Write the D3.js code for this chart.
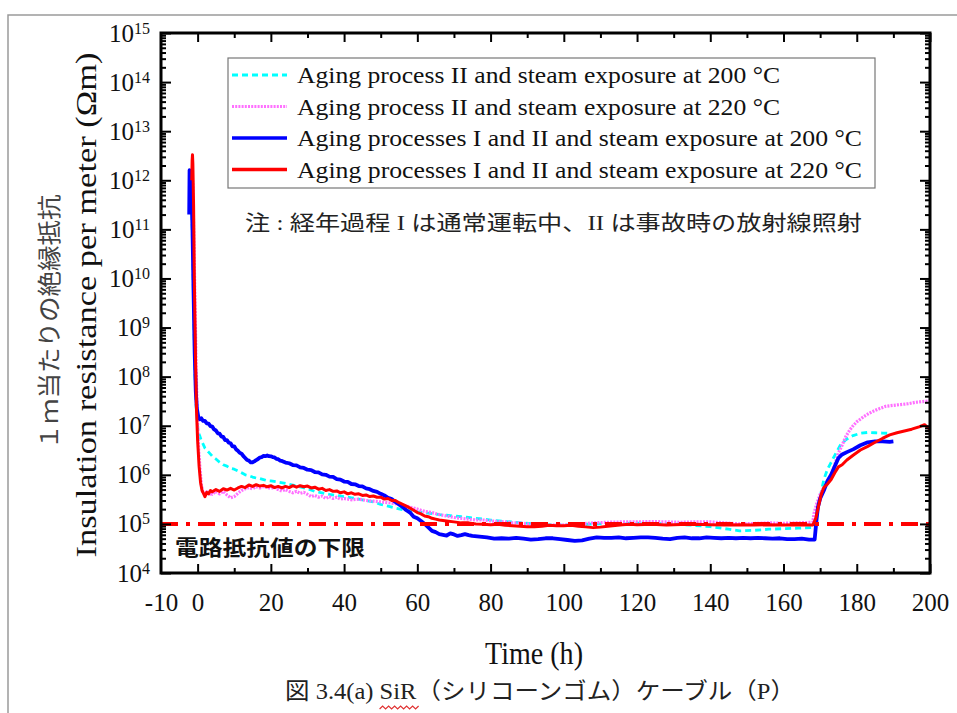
<!DOCTYPE html>
<html>
<head>
<meta charset="utf-8">
<script src="https://cdn.jsdelivr.net/npm/d3@7"></script>
<style>
body { margin: 0; background: #fff; }
svg { display: block; font-family: "Liberation Serif", "Times New Roman", serif; }
svg .tick text { font-family: "Liberation Serif", "Times New Roman", serif; }
.jp { font-family: "Noto Sans CJK JP", sans-serif; }
.mix { font-family: "Liberation Serif", "Noto Sans CJK JP", serif; }
</style>
</head>
<body>
<svg id="chart" width="957" height="713"></svg>
<script>
// legend labels, in drawing order
var seriesNames = [
  'Aging process II and steam exposure at 200 °C',
  'Aging process II and steam exposure at 220 °C',
  'Aging processes I and II and steam exposure at 200 °C',
  'Aging processes I and II and steam exposure at 220 °C'
];
var xTickLabels = [-10, 0, 20, 40, 60, 80, 100, 120, 140, 160, 180, 200];
var xMinorTicks = [10, 30, 50, 70, 90, 110, 130, 150, 170, 190];
var yDecades = [1e4, 1e5, 1e6, 1e7, 1e8, 1e9, 1e10, 1e11, 1e12, 1e13, 1e14, 1e15];
var lowerLimit = 1e5;

// [time (h), insulation resistance (Ohm m)]
var cyanData = [[-2.1, 3e11], [-1.9, 8e11], [-1.6, 3e11], [-1.3, 2e10], [-1.0, 1e9], [-0.7, 1e8], [-0.4, 2.5e7],
  [0, 9e6], [0.5, 6.5e6], [1, 5e6], [1.5, 4.2e6], [2, 3.5e6], [3, 2.9e6], [4, 2.4e6], [5, 2.1e6], [6, 1.8e6],
  [7, 1.6e6], [8, 1.5e6], [9, 1.35e6], [10, 1.3e6], [11, 1.2e6], [12, 1.1e6], [13, 1.0e6], [14, 9.6e5],
  [15, 9e5], [16, 8.6e5], [17, 8.4e5], [18, 8e5], [19, 7.6e5], [20, 7.5e5], [22, 7.1e5], [24, 6.7e5],
  [26, 6.2e5], [28, 5.7e5], [30, 5.2e5], [32, 4.6e5], [34, 4.3e5], [36, 4.0e5], [38, 3.8e5], [40, 3.6e5],
  [42, 3.4e5], [44, 3.2e5], [46, 3.0e5], [48, 2.8e5], [50, 2.5e5], [52, 2.3e5], [54, 2.1e5], [56, 1.95e5],
  [58, 1.85e5], [60, 1.75e5], [62, 1.7e5], [64, 1.62e5], [66, 1.55e5], [68, 1.5e5], [70, 1.45e5],
  [72, 1.4e5], [74, 1.35e5], [76, 1.3e5], [78, 1.25e5], [80, 1.2e5], [84, 1.12e5], [88, 1.06e5],
  [92, 1.0e5], [96, 9.6e4], [100, 9.5e4], [105, 9.8e4], [110, 1.0e5], [115, 1.02e5], [120, 1.04e5],
  [125, 1.02e5], [130, 1.0e5], [135, 9.4e4], [140, 8.8e4], [145, 7.8e4], [148, 7.2e4], [152, 7.4e4],
  [156, 7.8e4], [160, 8e4], [164, 8.2e4], [168, 8.4e4], [168.8, 1.2e5], [169.3, 2e5], [170, 3.5e5],
  [171, 8e5], [172, 1.3e6], [173, 1.8e6], [174, 2.5e6], [175.5, 4e6], [177, 5.2e6], [179, 6.3e6],
  [181, 7e6], [183, 7.3e6], [185, 7.2e6], [187, 7.1e6], [189, 7e6]];

var pinkData = [[-1.7, 5e11], [-1.5, 1.3e12], [-1.3, 8e11], [-1.0, 5e10], [-0.7, 3e9], [-0.4, 1.5e8], [-0.1, 1.5e7],
  [0.3, 3e6], [0.7, 1.2e6], [1.0, 6.5e5], [1.4, 4.5e5], [2, 4e5], [2.5, 4.5e5], [3, 3.8e5], [3.5, 4.3e5],
  [4, 4e5], [5, 4.6e5], [6, 4.1e5], [7, 4.6e5], [8, 3.9e5], [9, 3.4e5], [10, 3.6e5], [11, 4.2e5],
  [12, 4.8e5], [13, 5.2e5], [14, 5.5e5], [15, 5.2e5], [16, 5.7e5], [17, 5.4e5], [18, 5.8e5], [19, 5.5e5],
  [20, 5.3e5], [21, 5.6e5], [22, 5e5], [23, 4.7e5], [24, 5e5], [25, 4.6e5], [26, 4.3e5], [27, 4.6e5],
  [28, 4.2e5], [29, 4.4e5], [30, 4e5], [31, 3.6e5], [32, 3.8e5], [33, 3.5e5], [34, 3.7e5], [35, 3.3e5],
  [36, 3.6e5], [37, 3.3e5], [38, 3.5e5], [39, 3.2e5], [40, 3.3e5], [42, 3.1e5], [44, 3.2e5], [46, 3e5],
  [48, 2.9e5], [50, 2.8e5], [52, 2.7e5], [54, 2.6e5], [56, 2.4e5], [58, 2.2e5], [60, 2.0e5], [62, 1.8e5],
  [64, 1.7e5], [66, 1.55e5], [68, 1.45e5], [70, 1.35e5], [72, 1.3e5], [74, 1.25e5], [76, 1.2e5],
  [78, 1.2e5], [80, 1.15e5], [82, 1.12e5], [84, 1.1e5], [86, 1.05e5], [88, 1.05e5], [90, 1.0e5],
  [92, 9.8e4], [94, 9.5e4], [96, 9.3e4], [98, 9.6e4], [100, 9.5e4], [104, 1.0e5], [108, 1.05e5],
  [112, 1.08e5], [116, 1.1e5], [120, 1.1e5], [124, 1.12e5], [128, 1.1e5], [132, 1.08e5], [136, 1.1e5],
  [140, 1.1e5], [144, 1.05e5], [148, 1.0e5], [152, 1.02e5], [156, 1.05e5], [160, 1.03e5], [164, 1.05e5],
  [168, 1.08e5], [168.3, 1.6e5], [169, 2.5e5], [170, 4e5], [171, 5.5e5], [172, 6.5e5], [173, 9e5],
  [174, 1.6e6], [175, 2.8e6], [176, 4e6], [177, 6e6], [178, 8e6], [179, 1e7], [180, 1.2e7], [182, 1.55e7],
  [184, 1.9e7], [186, 2.2e7], [188, 2.5e7], [190, 2.6e7], [192, 2.7e7], [194, 2.8e7], [196, 3e7],
  [198, 3.1e7], [200, 3.2e7]];

var blueData = [[-2.3, 2e11], [-2.2, 1.6e12], [-2.0, 1.3e12], [-1.7, 8e11], [-1.4, 1e11], [-1.1, 5e9], [-0.8, 3e8],
  [-0.5, 5e7], [-0.2, 2.2e7], [0.2, 1.5e7], [0.6, 1.35e7], [1, 1.42e7], [1.5, 1.25e7], [2, 1.25e7],
  [2.5, 1.12e7], [3, 1.1e7], [3.5, 9.8e6], [4, 9.6e6], [4.5, 8.4e6], [5, 8e6], [5.5, 7e6], [6, 6.9e6],
  [6.5, 6e6], [7, 5.9e6], [7.5, 5.1e6], [8, 5.1e6], [8.5, 4.5e6], [9, 4.4e6], [9.5, 3.8e6], [10, 3.8e6],
  [10.5, 3.3e6], [11, 3.1e6], [11.5, 2.8e6], [12, 2.7e6], [12.5, 2.4e6], [13, 2.2e6], [13.5, 2e6],
  [14, 1.95e6], [14.5, 1.8e6], [15, 1.8e6], [15.5, 1.88e6], [16, 2e6], [16.5, 2.1e6], [17, 2.25e6],
  [17.5, 2.3e6], [18, 2.42e6], [18.5, 2.4e6], [19, 2.48e6], [19.5, 2.4e6], [20, 2.38e6], [20.5, 2.3e6],
  [21, 2.26e6], [21.5, 2.12e6], [22, 2.08e6], [22.5, 1.95e6], [23, 1.92e6], [24, 1.78e6], [25, 1.72e6],
  [26, 1.58e6], [27, 1.56e6], [28, 1.42e6], [29, 1.38e6], [30, 1.27e6], [31, 1.25e6], [32, 1.14e6],
  [33, 1.12e6], [34, 1.02e6], [35, 1.0e6], [36, 9.2e5], [37, 9.1e5], [38, 8.2e5], [39, 8e5], [40, 7.3e5],
  [41, 7.2e5], [42, 6.5e5], [43, 6.4e5], [44, 5.9e5], [45, 5.8e5], [46, 5.3e5], [47, 5.1e5], [48, 4.7e5],
  [49, 4.5e5], [50, 4.1e5], [51, 3.8e5], [52, 3.4e5], [53, 3.2e5], [54, 2.8e5], [55, 2.5e5], [56, 2.2e5],
  [57, 1.9e5], [58, 1.7e5], [59, 1.4e5], [60, 1.3e5], [61, 1.15e5], [62, 1.0e5], [63, 8.5e4], [64, 7.2e4],
  [65, 6.8e4], [66, 6.2e4], [67, 6e4], [68, 5.8e4], [69, 6.4e4], [70, 6.1e4], [71, 5.7e4], [72, 5.9e4],
  [73, 6.2e4], [74, 5.9e4], [75, 5.7e4], [77, 5.5e4], [79, 5.3e4], [81, 5e4], [83, 5.1e4], [85, 5e4],
  [87, 5.2e4], [89, 5e4], [91, 4.8e4], [93, 4.9e4], [95, 5.1e4], [97, 5.1e4], [99, 4.9e4], [101, 4.7e4],
  [103, 4.5e4], [105, 4.6e4], [107, 5e4], [109, 5.3e4], [111, 5.2e4], [113, 5.2e4], [115, 5.3e4],
  [117, 5.1e4], [119, 5.2e4], [121, 5.3e4], [123, 5.3e4], [125, 5.2e4], [127, 5e4], [129, 4.9e4],
  [131, 5.2e4], [133, 5.3e4], [135, 5.1e4], [137, 5.1e4], [139, 5.3e4], [141, 5.2e4], [143, 5.1e4],
  [145, 5.2e4], [147, 5.1e4], [149, 5.2e4], [151, 5.1e4], [153, 5.2e4], [155, 5.1e4], [157, 5e4],
  [159, 5.1e4], [161, 4.9e4], [163, 4.9e4], [165, 5e4], [167, 4.8e4], [168.5, 4.8e4], [169, 1.2e5],
  [169.4, 2.2e5], [170, 3.3e5], [171, 4.8e5], [172, 7.5e5], [173, 1.0e6], [174, 1.5e6], [175, 2.2e6],
  [176, 2.6e6], [177.3, 2.9e6], [179, 3.3e6], [181, 4e6], [183, 4.6e6], [185, 4.8e6], [187, 4.8e6],
  [189, 4.7e6], [190, 4.8e6]];

var redData = [[-1.6, 1e12], [-1.5, 2.5e12], [-1.4, 3.3e12], [-1.3, 2.2e12], [-1.1, 3e11], [-0.9, 1e10], [-0.6, 3e8],
  [-0.3, 2e7], [0, 5e6], [0.4, 1.5e6], [0.8, 7e5], [1.2, 4.8e5], [1.6, 4.2e5], [2, 3.6e5], [2.5, 4.4e5],
  [3, 4.1e5], [3.5, 4.8e5], [4, 4.5e5], [5, 5e5], [6, 4.6e5], [7, 5.2e5], [8, 4.9e5], [9, 5.3e5],
  [10, 4.9e5], [11, 5.4e5], [12, 5.8e5], [13, 5.5e5], [14, 6.2e5], [15, 5.8e5], [16, 6.3e5], [17, 5.9e5],
  [18, 6.1e5], [19, 5.7e5], [20, 6e5], [21, 5.5e5], [22, 5.8e5], [23, 5.4e5], [24, 5.8e5], [25, 5.5e5],
  [26, 6e5], [27, 5.6e5], [28, 6e5], [29, 5.7e5], [30, 5.9e5], [31, 5.4e5], [32, 5.6e5], [33, 5.1e5],
  [34, 5.3e5], [35, 4.8e5], [36, 5e5], [37, 4.6e5], [38, 4.7e5], [39, 4.3e5], [40, 4.5e5], [41, 4.1e5],
  [42, 4.3e5], [43, 4e5], [44, 4.1e5], [45, 3.8e5], [46, 3.9e5], [47, 3.6e5], [48, 3.7e5], [49, 3.5e5],
  [50, 3.5e5], [51, 3.2e5], [52, 3.3e5], [53, 3e5], [54, 3e5], [55, 2.7e5], [56, 2.5e5], [57, 2.3e5],
  [58, 2.1e5], [59, 1.9e5], [60, 1.7e5], [61, 1.6e5], [62, 1.45e5], [63, 1.4e5], [64, 1.3e5],
  [65, 1.25e5], [66, 1.2e5], [68, 1.15e5], [70, 1.1e5], [72, 1.05e5], [74, 1.05e5], [76, 1.0e5],
  [78, 9.8e4], [80, 9.6e4], [82, 9.8e4], [84, 9.4e4], [86, 9.2e4], [88, 9e4], [90, 8.8e4], [92, 8.8e4],
  [94, 9e4], [96, 9.4e4], [98, 9.2e4], [100, 9.2e4], [102, 9.4e4], [104, 9e4], [106, 8.7e4], [108, 8.4e4],
  [110, 8.6e4], [112, 9e4], [114, 9.3e4], [116, 9.6e4], [118, 9.8e4], [120, 9.6e4], [124, 9.8e4],
  [128, 9.5e4], [132, 9.7e4], [136, 9.8e4], [140, 9.6e4], [144, 9.5e4], [148, 9.6e4], [152, 9.5e4],
  [156, 9.6e4], [160, 9.5e4], [164, 9.6e4], [168, 9.5e4], [168.8, 1.3e5], [169.5, 2.2e5], [170.3, 4e5],
  [171, 5.5e5], [172, 6.5e5], [173, 8e5], [174, 1.1e6], [175, 1.45e6], [176, 1.6e6], [177.3, 2e6],
  [179, 2.5e6], [181, 3.2e6], [183, 3.8e6], [185, 4.6e6], [187, 5.5e6], [189, 6.5e6], [191, 7.2e6],
  [193, 7.8e6], [195, 8.5e6], [197, 9.5e6], [198.5, 1.05e7], [199.5, 9e6], [200, 8.5e6]];

var seriesData = [cyanData, pinkData, blueData, redData];
var seriesColors = ['#00ffff', '#ff70ff', '#0000ff', '#ff0000'];
var seriesDash = ['6,4', '2,1.2', null, null];
var seriesWidth = [2.8, 3.2, 3.8, 3];

var frame = { left: 161, right: 930, top: 33, bottom: 573 };
var svg = d3.select('#chart');

// page border (top and left edge of the scanned page)
svg.append('path').attr('d', 'M8,713V15H957')
  .attr('fill', 'none').attr('stroke', '#9a9a9a').attr('stroke-width', 1.5);

var x = d3.scaleLinear().domain([-10, 200]).range([frame.left, frame.right]);
var y = d3.scaleLog().domain([1e4, 1e15]).range([frame.bottom, frame.top]);

var yMinor = [];
yDecades.slice(0, -1).forEach(function(d) {
  for (var k = 2; k <= 9; k++) yMinor.push(d * k);
});

svg.append('clipPath').attr('id', 'plot-clip').append('rect')
  .attr('x', frame.left).attr('y', frame.top)
  .attr('width', frame.right - frame.left).attr('height', frame.bottom - frame.top);

var plot = svg.append('g').attr('clip-path', 'url(#plot-clip)');
var line = d3.line()
  .x(function(d) { return x(d[0]); })
  .y(function(d) { return y(d[1]); });

plot.selectAll('.series').data(seriesData).enter()
  .append('path').classed('series', true)
  .attr('d', line)
  .attr('fill', 'none')
  .attr('stroke', function(d, i) { return seriesColors[i]; })
  .attr('stroke-width', function(d, i) { return seriesWidth[i]; })
  .attr('stroke-dasharray', function(d, i) { return seriesDash[i]; })
  .attr('stroke-linejoin', 'round');

// lower limit of circuit resistance
plot.append('line')
  .attr('x1', x(-10)).attr('x2', x(200))
  .attr('y1', y(lowerLimit)).attr('y2', y(lowerLimit))
  .attr('stroke', '#ff0000').attr('stroke-width', 4)
  .attr('stroke-dasharray', '17,8,4,8');

svg.append('text').classed('jp', true)
  .attr('x', 175).attr('y', 555)
  .attr('font-size', 21).attr('font-weight', 'bold').attr('fill', '#111')
  .attr('textLength', 190).attr('lengthAdjust', 'spacingAndGlyphs')
  .text('電路抵抗値の下限');

// axes, ticks pointing inward
function styleAxis(g) {
  g.attr('font-family', null).attr('font-size', null);
  g.select('.domain').remove();
  g.selectAll('.tick line').attr('stroke', '#000').attr('stroke-width', 2);
  g.selectAll('.tick text').attr('fill', '#111');
}

svg.append('g').attr('transform', 'translate(0,' + frame.bottom + ')')
  .call(d3.axisBottom(x).tickValues(xTickLabels).tickSize(-9).tickPadding(20)
    .tickFormat(function(d) { return d; }))
  .call(styleAxis)
  .call(function(g) {
    g.selectAll('.tick text').style('font-size', '25px');
    g.selectAll('.tick').filter(function(d) { return d === -10; }).select('line').remove();
  });
svg.append('g').attr('transform', 'translate(0,' + frame.bottom + ')')
  .call(d3.axisBottom(x).tickValues(xMinorTicks).tickSize(-5).tickFormat(''))
  .call(styleAxis);
svg.append('g').attr('transform', 'translate(0,' + frame.top + ')')
  .call(d3.axisTop(x).tickValues(xTickLabels.slice(1)).tickSize(-9).tickFormat(''))
  .call(styleAxis);
svg.append('g').attr('transform', 'translate(0,' + frame.top + ')')
  .call(d3.axisTop(x).tickValues(xMinorTicks).tickSize(-5).tickFormat(''))
  .call(styleAxis);

svg.append('g').attr('transform', 'translate(' + frame.left + ',0)')
  .call(d3.axisLeft(y).tickValues(yDecades).tickSize(-10).tickPadding(11).tickFormat(''))
  .call(styleAxis)
  .call(function(g) {
    g.selectAll('.tick text').style('font-size', '25px').each(function(d) {
      var t = d3.select(this);
      t.append('tspan').text('10');
      t.append('tspan').attr('dy', '-0.5em').style('font-size', '16px')
        .text(Math.round(Math.log10(d)));
    });
  });
svg.append('g').attr('transform', 'translate(' + frame.left + ',0)')
  .call(d3.axisLeft(y).tickValues(yMinor).tickSize(-5).tickFormat(''))
  .call(styleAxis);
svg.append('g').attr('transform', 'translate(' + frame.right + ',0)')
  .call(d3.axisRight(y).tickValues(yDecades).tickSize(-10).tickFormat(''))
  .call(styleAxis);
svg.append('g').attr('transform', 'translate(' + frame.right + ',0)')
  .call(d3.axisRight(y).tickValues(yMinor).tickSize(-5).tickFormat(''))
  .call(styleAxis);

svg.append('rect')
  .attr('x', frame.left).attr('y', frame.top)
  .attr('width', frame.right - frame.left).attr('height', frame.bottom - frame.top)
  .attr('fill', 'none').attr('stroke', '#000').attr('stroke-width', 3);

// legend
var legend = svg.append('g');
legend.append('rect')
  .attr('x', 228).attr('y', 58).attr('width', 647).attr('height', 130)
  .attr('fill', '#fff').attr('stroke', '#777').attr('stroke-width', 1.2);
var legendWidths = [483, 483, 565, 565];
var rows = legend.selectAll('.legend-row').data(seriesNames).enter()
  .append('g').classed('legend-row', true)
  .attr('transform', function(d, i) { return 'translate(0,' + (75 + i * 31.5) + ')'; });
rows.append('line')
  .attr('x1', 232).attr('x2', 287)
  .attr('stroke', function(d, i) { return seriesColors[i]; })
  .attr('stroke-width', function(d, i) { return i < 2 ? 2.8 : 3.5; })
  .attr('stroke-dasharray', function(d, i) { return seriesDash[i]; });
rows.append('text')
  .attr('x', 297).attr('y', 8)
  .attr('font-size', 23).attr('fill', '#111')
  .attr('textLength', function(d, i) { return legendWidths[i]; })
  .attr('lengthAdjust', 'spacingAndGlyphs')
  .text(function(d) { return d; });

svg.append('text').classed('mix', true)
  .attr('x', 245).attr('y', 230)
  .attr('font-size', 21).attr('fill', '#222')
  .attr('textLength', 617).attr('lengthAdjust', 'spacingAndGlyphs')
  .text('注 : 経年過程 I は通常運転中、II は事故時の放射線照射');

// axis titles
svg.append('text')
  .attr('transform', 'translate(86,305) rotate(-90)')
  .attr('text-anchor', 'middle').attr('dy', '0.35em')
  .attr('font-size', 29).attr('fill', '#111')
  .attr('textLength', 505).attr('lengthAdjust', 'spacingAndGlyphs')
  .text('Insulation resistance per meter (Ωm)');
svg.append('text').classed('jp', true)
  .attr('transform', 'translate(50,322) rotate(-90)')
  .attr('text-anchor', 'middle').attr('dy', '0.35em')
  .attr('font-size', 24).attr('fill', '#444')
  .attr('textLength', 255).attr('lengthAdjust', 'spacingAndGlyphs')
  .text('１ｍ当たりの絶縁抵抗');
svg.append('text')
  .attr('x', 534).attr('y', 664)
  .attr('text-anchor', 'middle')
  .attr('font-size', 31).attr('fill', '#111')
  .attr('textLength', 98).attr('lengthAdjust', 'spacingAndGlyphs')
  .text('Time (h)');

// figure caption
var caption = svg.append('text').classed('mix', true)
  .attr('x', 540).attr('y', 699)
  .attr('text-anchor', 'middle')
  .attr('font-size', 23).attr('fill', '#222')
  .attr('textLength', 510).attr('lengthAdjust', 'spacingAndGlyphs')
  .text('図 3.4(a) SiR（シリコーンゴム）ケーブル（P）');
var capText = caption.text();
var sIdx = capText.indexOf('SiR');
var c0 = caption.node().getExtentOfChar(sIdx);
var c1 = caption.node().getExtentOfChar(sIdx + 2);
var wave = 'M' + c0.x + ',709';
for (var wx = c0.x, k = 0; wx < c1.x + c1.width; wx += 3, k++) {
  wave += 'L' + (wx + 3) + ',' + (k % 2 ? 709 : 706);
}
svg.append('path').attr('d', wave)
  .attr('fill', 'none').attr('stroke', '#e03030').attr('stroke-width', 1.2);
</script>
</body>
</html>
